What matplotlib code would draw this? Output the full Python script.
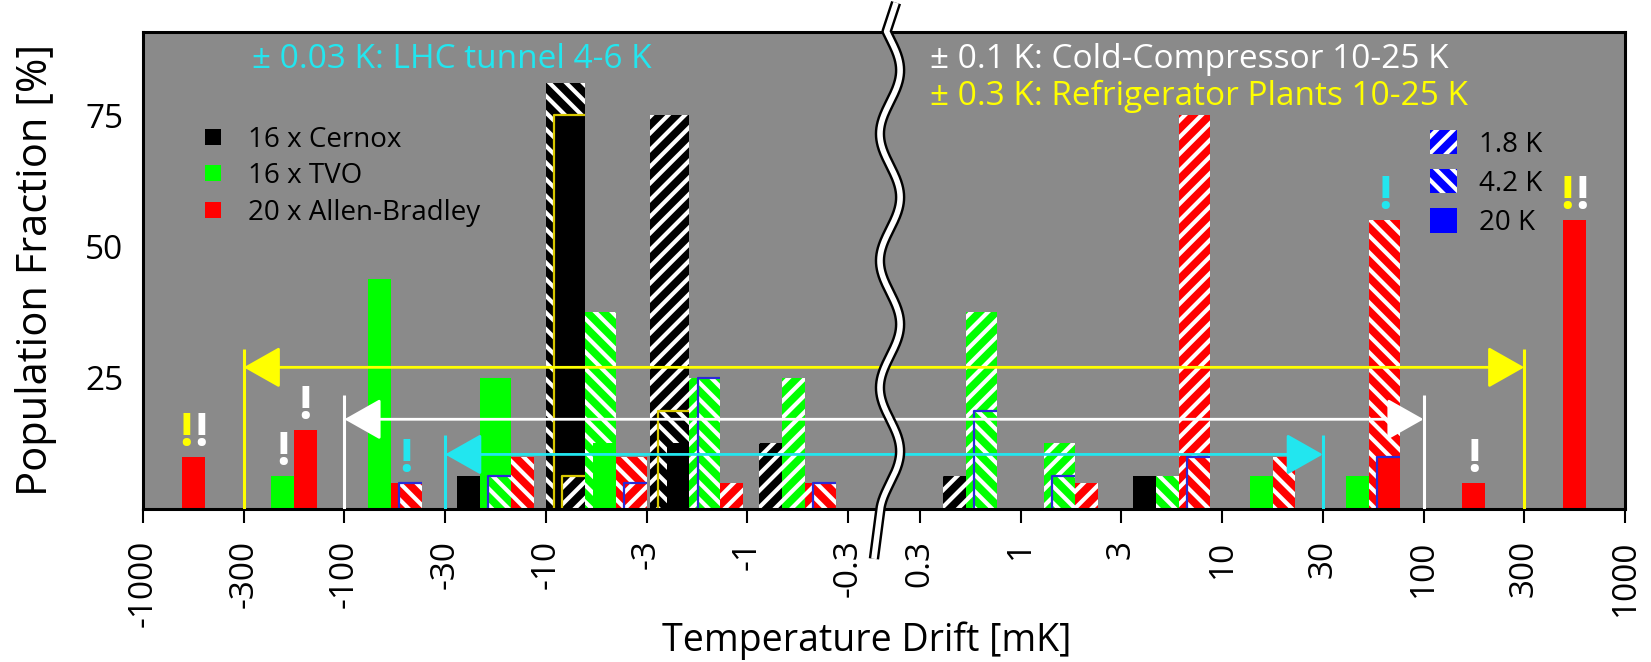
import numpy as np
import matplotlib
matplotlib.use("Agg")
import matplotlib.pyplot as plt
from matplotlib.patches import Patch, FancyArrowPatch
from matplotlib.lines import Line2D

plt.rcParams['font.family'] = ['Open Sans', 'DejaVu Sans']
plt.rcParams['hatch.linewidth'] = 3.0

# ---------------- data ----------------
tick_labels = ["-1000", "-300", "-100", "-30", "-10", "-3", "-1", "-0.3",
               "0.3", "1", "3", "10", "30", "100", "300", "1000"]

sensors = ["Cernox", "TVO", "Allen-Bradley"]
sensor_counts = [16, 16, 20]
temps = ["1.8 K", "4.2 K", "20 K"]

# each bar: bin (named by the tick at its left edge), sensor, temperature, population fraction [%]
bar_bin = ["-1000",
           "-300", "-300",
           "-100", "-100", "-100",
           "-30", "-30", "-30", "-30",
           "-10", "-10", "-10", "-10", "-10", "-10", "-10",
           "-3", "-3", "-3", "-3", "-3", "-3",
           "-1", "-1", "-1", "-1",
           "0.3", "0.3", "0.3",
           "1", "1", "1",
           "3", "3", "3", "3",
           "10", "10",
           "30", "30", "30",
           "100",
           "300"]
bar_sensor = ["Allen-Bradley",
              "TVO", "Allen-Bradley",
              "TVO", "Allen-Bradley", "Allen-Bradley",
              "Cernox", "TVO", "TVO", "Allen-Bradley",
              "Cernox", "Cernox", "Cernox", "TVO", "TVO", "Allen-Bradley", "Allen-Bradley",
              "Cernox", "Cernox", "Cernox", "TVO", "TVO", "Allen-Bradley",
              "Cernox", "TVO", "Allen-Bradley", "Allen-Bradley",
              "Cernox", "TVO", "TVO",
              "TVO", "TVO", "Allen-Bradley",
              "Cernox", "TVO", "Allen-Bradley", "Allen-Bradley",
              "TVO", "Allen-Bradley",
              "TVO", "Allen-Bradley", "Allen-Bradley",
              "Allen-Bradley",
              "Allen-Bradley"]
bar_temp = ["20 K",
            "20 K", "20 K",
            "20 K", "20 K", "4.2 K",
            "20 K", "20 K", "4.2 K", "4.2 K",
            "4.2 K", "20 K", "1.8 K", "4.2 K", "20 K", "4.2 K", "1.8 K",
            "1.8 K", "4.2 K", "20 K", "1.8 K", "4.2 K", "1.8 K",
            "1.8 K", "1.8 K", "1.8 K", "4.2 K",
            "1.8 K", "1.8 K", "4.2 K",
            "1.8 K", "4.2 K", "1.8 K",
            "20 K", "4.2 K", "1.8 K", "4.2 K",
            "20 K", "4.2 K",
            "20 K", "4.2 K", "20 K",
            "20 K",
            "20 K"]
bar_pct = [10,
           6.25, 15,
           43.75, 5, 5,
           6.25, 25, 6.25, 10,
           81.25, 75, 6.25, 37.5, 12.5, 10, 5,
           75, 18.75, 12.5, 25, 25, 5,
           12.5, 25, 5, 5,
           6.25, 37.5, 18.75,
           12.5, 6.25, 5,
           6.25, 6.25, 75, 10,
           6.25, 10,
           6.25, 55, 10,
           5,
           55]
bar_outline = ["",
               "", "",
               "", "", "blue",
               "", "", "blue", "",
               "", "yellow", "yellow", "", "", "", "blue",
               "", "yellow", "", "", "blue", "",
               "", "", "", "blue",
               "", "", "blue",
               "", "blue", "",
               "", "", "", "blue",
               "", "",
               "", "", "blue",
               "",
               ""]

# warning marks above bars
mark_bin = ["-1000", "-300", "-300", "-100", "30", "100", "300"]
mark_sensor = ["Allen-Bradley", "TVO", "Allen-Bradley", "Allen-Bradley",
               "Allen-Bradley", "Allen-Bradley", "Allen-Bradley"]
mark_colors = [["yellow", "white"], ["white"], ["white"], ["cyan"],
               ["cyan"], ["white"], ["yellow", "white"]]

# tolerance bands [mK]
tol_mK = [300, 100, 30]
tol_names = ["± 0.3 K: Refrigerator Plants 10-25 K",
             "± 0.1 K: Cold-Compressor 10-25 K",
             "± 0.03 K: LHC tunnel 4-6 K"]

# ---------------- style ----------------
BG = '#8a8a8a'
sensor_color = {"Cernox": "#000000", "TVO": "#00ff00", "Allen-Bradley": "#ff0000"}
temp_hatch = {"1.8 K": "//", "4.2 K": "\\\\", "20 K": None}
outline_color = {"blue": "#2a2ad8", "yellow": "#d8c800"}
named = {"yellow": "#ffff00", "white": "#ffffff", "cyan": "#22e6ef"}
tol_color = [named["yellow"], named["white"], named["cyan"]]
tol_y = [27.0, 17.1, 10.4]
tol_vtop = [30.5, 21.8, 14.1]

G = 0.715  # width of the axis break in half-decade units


def pos(v):
    v = np.asarray(v, dtype=float)
    e = np.round(2 * np.log10(np.abs(v)))
    return np.sign(v) * (e + 1 + G / 2)


tick_vals = [float(t) for t in tick_labels]
tick_pos = [float(pos(v)) for v in tick_vals]
bin_center = {}
for i in range(len(tick_labels) - 1):
    if tick_labels[i] == "-0.3":
        continue
    bin_center[tick_labels[i]] = 0.5 * (tick_pos[i] + tick_pos[i + 1])

fig = plt.figure(figsize=(16.51, 6.62), dpi=100)
ax = fig.add_axes([143 / 1651, 1 - 509 / 662, 1482 / 1651, 477.5 / 662])
ax.set_facecolor(BG)
XL = 7 + G / 2
ax.set_xlim(-XL, XL)
ax.set_ylim(0, 91)

# ---- layout of bars inside each bin ----
W0, DW = 0.228, 0.08
n = len(bar_pct)
geom = [None] * n
slot_center = {}
slot_top = {}
for b in bin_center:
    idx = [i for i in range(n) if bar_bin[i] == b]
    if not idx:
        continue
    present = [s for s in sensors if any(bar_sensor[i] == s for i in idx)]
    widths = {s: W0 + DW * (sum(bar_sensor[i] == s for i in idx) - 1) for s in present}
    left = bin_center[b] - sum(widths.values()) / 2
    for s in present:
        members = sorted([i for i in idx if bar_sensor[i] == s], key=lambda i: -bar_pct[i])
        right = left + widths[s]
        for k, i in enumerate(members):
            x0 = left + DW * k
            geom[i] = (x0, right - x0, k)
        slot_center[(b, s)] = 0.5 * (left + right)
        slot_top[(b, s)] = max(bar_pct[i] for i in members)
        left = right

for i in range(n):
    x0, w, k = geom[i]
    c = sensor_color[bar_sensor[i]]
    h = temp_hatch[bar_temp[i]]
    ax.bar(x0, bar_pct[i], width=w, align='edge', color=c,
           edgecolor=('white' if h else c), linewidth=0, hatch=h, zorder=2 + 0.1 * k)
    if bar_outline[i]:
        ax.plot([x0, x0, x0 + w], [0, bar_pct[i], bar_pct[i]],
                color=outline_color[bar_outline[i]], lw=1.6, zorder=2.05 + 0.1 * k,
                solid_capstyle='butt')

# ---- tolerance arrows ----
for t, c, y, vt in zip(tol_mK, tol_color, tol_y, tol_vtop):
    xa, xb = float(pos(-t)), float(pos(t))
    ax.vlines([xa, xb], 0, vt, color=c, lw=2.2, zorder=6)
    arr = FancyArrowPatch((xa, y), (xb, y),
                          arrowstyle='<|-|>,head_length=23,head_width=13',
                          mutation_scale=1, color=c, lw=2.0,
                          shrinkA=0, shrinkB=0, zorder=6)
    ax.add_patch(arr)

# ---- warning marks ----
for b, s, cols in zip(mark_bin, mark_sensor, mark_colors):
    xc, top = slot_center[(b, s)], slot_top[(b, s)]
    offs = [0] if len(cols) == 1 else [-5.5, 5.5]
    for c, dx in zip(cols, offs):
        ax.annotate("!", xy=(xc, top), xytext=(dx, 0), textcoords='offset points',
                    ha='center', va='bottom', fontsize=34, fontweight='bold',
                    color=named[c], zorder=8)

# ---- band texts ----
ax.text(0.0735, 0.9236, tol_names[2], transform=ax.transAxes, color=tol_color[2],
        fontsize=24, ha='left', va='baseline', zorder=9)
ax.text(0.531, 0.9236, tol_names[1], transform=ax.transAxes, color=tol_color[1],
        fontsize=24, ha='left', va='baseline', zorder=9)
ax.text(0.531, 0.846, tol_names[0], transform=ax.transAxes, color=tol_color[0],
        fontsize=24, ha='left', va='baseline', zorder=9)

# ---- legends ----
h1 = [Line2D([], [], ls='', marker='s', markersize=11, markeredgewidth=0,
             color=sensor_color[s]) for s in sensors]
l1 = ax.legend(h1, [f"{c} x {s}" for c, s in zip(sensor_counts, sensors)],
               loc='upper left', bbox_to_anchor=(0.0378, 0.803), frameon=False,
               fontsize=20, handlelength=1.0, handletextpad=0.75, labelspacing=0.31,
               borderpad=0, borderaxespad=0)
ax.add_artist(l1)
h2 = [Patch(facecolor='#0000ff', edgecolor=('white' if temp_hatch[t] else '#0000ff'),
            hatch=temp_hatch[t], linewidth=0) for t in temps]
ax.legend(h2, temps, loc='upper left', bbox_to_anchor=(0.8684, 0.794), frameon=False,
          fontsize=20, handlelength=0.97, handleheight=0.97, handletextpad=0.8,
          labelspacing=0.38, borderpad=0, borderaxespad=0)

# ---- axis break ----
yy = np.linspace(0, 91, 500)
xx = 0.06 + 0.1 * np.cos(2 * np.pi * (yy - 59.4) / 24.2)
xs = np.concatenate([[-0.1], xx, [0.12]])
ys = np.concatenate([[-9.5], yy, [96.5]])
ax.plot(xs, ys, color='black', lw=7.5, clip_on=False, zorder=10, solid_capstyle='butt')
ax.plot(xs, ys, color='white', lw=4.0, clip_on=False, zorder=11, solid_capstyle='butt')

# ---- axes ----
ax.set_xticks(tick_pos)
ax.set_xticklabels(tick_labels, rotation=90)
ax.set_yticks([25, 50, 75])
ax.tick_params(axis='x', direction='out', length=10, width=1.5, pad=12, labelsize=24)
ax.tick_params(axis='y', length=0, pad=14, labelsize=24)
for sp in ax.spines.values():
    sp.set_linewidth(2.2)
ax.set_ylabel("Population Fraction [%]", fontsize=30)
ax.yaxis.set_label_coords(-0.058, 0.5)
ax.set_xlabel("Temperature Drift [mK]", fontsize=27, va='baseline')
ax.xaxis.set_label_coords(0.488, -0.297)

fig.savefig("out.png", dpi=100)
